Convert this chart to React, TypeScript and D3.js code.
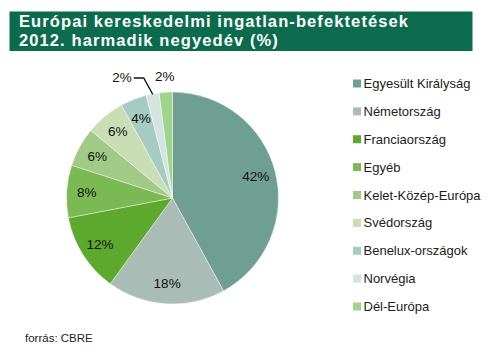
import React from "react";
import * as d3 from "d3";

const categories = [
  "Egyesült Királyság",
  "Németország",
  "Franciaország",
  "Egyéb",
  "Kelet-Közép-Európa",
  "Svédország",
  "Benelux-országok",
  "Norvégia",
  "Dél-Európa",
];
const values = [42, 18, 12, 8, 6, 6, 4, 2, 2];
const colors = [
  "#6E9F92",
  "#A9BCB5",
  "#5CA92D",
  "#7BB955",
  "#A2CA87",
  "#CADEB6",
  "#A6CBC3",
  "#D5E4E0",
  "#A0D48C",
];
const titleLines = ["Európai kereskedelmi ingatlan-befektetések", "2012. harmadik negyedév (%)"];
const sourceText = "forrás: CBRE";

export default function App() {
  const W = 488;
  const H = 356;
  const cx = 172.5;
  const cy = 198;
  const r = 106;
  const font = "Arial, 'Liberation Sans', Helvetica, sans-serif";

  const pie = d3.pie<number>().value((d) => d).sort(null);
  const arcs = pie(values);
  const arcGen = d3.arc<d3.PieArcDatum<number>>().innerRadius(0).outerRadius(r);
  const labelArc = d3.arc<d3.PieArcDatum<number>>().innerRadius(r * 0.81).outerRadius(r * 0.81);

  const legendY = d3.scalePoint<string>().domain(categories).range([83.5, 306.5]);

  const a7 = arcs[7];
  const a8 = arcs[8];
  const mid7 = (a7.startAngle + a7.endAngle) / 2;
  const mid8 = (a8.startAngle + a8.endAngle) / 2;
  const px = cx + Math.sin(mid7) * (r - 0.5);
  const py = cy - Math.cos(mid7) * (r - 0.5);
  const qx = cx + Math.sin(mid8) * (r + 16);
  const qy = cy - Math.cos(mid8) * (r + 16);
  const ly = cy - r - 15;

  return (
    <svg width={W} height={H} style={{ position: "absolute", left: 0, top: 0 }}>
      <rect x={0} y={0} width={W} height={H} fill="#fff" />
      <rect x={9.5} y={11.5} width={463} height={39.5} fill="#0B6B4C" />
      <text
        fill="#fff"
        fontFamily={font}
        fontWeight="bold"
        fontSize={16.5}
        letterSpacing={1.1}
      >
        {titleLines.map((t, i) => (
          <tspan key={i} x={19} y={27 + i * 18.5}>
            {t}
          </tspan>
        ))}
      </text>
      <g transform={`translate(${cx},${cy})`}>
        {arcs.map((a, i) => (
          <path key={i} d={arcGen(a) || ""} fill={colors[i]} stroke="#fff" strokeWidth={0.4} />
        ))}
        {arcs.map((a, i) => {
          if (i >= 7) return null;
          const [x, y] = labelArc.centroid(a);
          return (
            <text
              key={i}
              x={x}
              y={y}
              textAnchor="middle"
              dominantBaseline="central"
              fontFamily={font}
              fontSize={13.5}
              fill="#111"
            >
              {values[i]}%
            </text>
          );
        })}
      </g>
      <polyline
        points={`${px},${py} ${px - 9},${ly + 1} ${px - 19},${ly + 1}`}
        fill="none"
        stroke="#111"
        strokeWidth={1.3}
      />
      <text
        x={px - 21}
        y={ly}
        textAnchor="end"
        dominantBaseline="central"
        fontFamily={font}
        fontSize={13.5}
        fill="#111"
      >
        {values[7]}%
      </text>
      <text
        x={qx}
        y={qy}
        textAnchor="middle"
        dominantBaseline="central"
        fontFamily={font}
        fontSize={13.5}
        fill="#111"
      >
        {values[8]}%
      </text>
      {categories.map((c, i) => {
        const y = legendY(c) as number;
        return (
          <g key={c}>
            <rect x={353} y={y - 4} width={8} height={8} fill={colors[i]} />
            <text
              x={363.5}
              y={y}
              dominantBaseline="central"
              fontFamily={font}
              fontSize={13}
              fill="#222"
            >
              {c}
            </text>
          </g>
        );
      })}
      <text x={25} y={338} dominantBaseline="central" fontFamily={font} fontSize={11.5} fill="#222">
        {sourceText}
      </text>
    </svg>
  );
}
